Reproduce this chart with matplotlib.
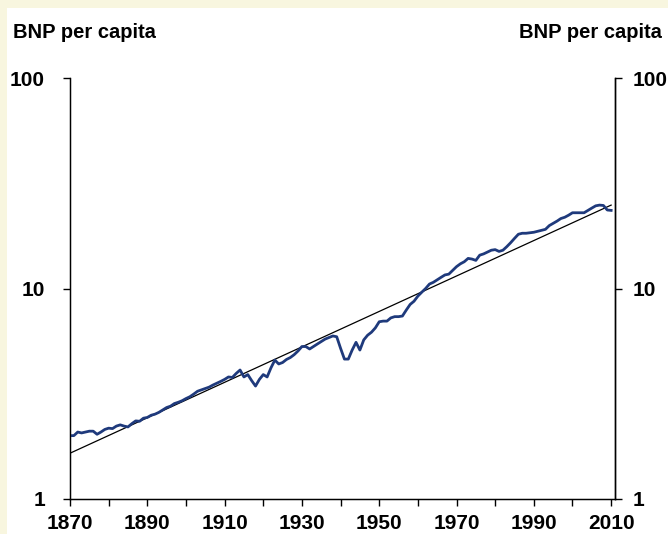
import matplotlib as mpl
import matplotlib.pyplot as plt
from matplotlib.patches import Rectangle

years = list(range(1870, 2011))
bnp = [
  2.00, 2.00, 2.08, 2.06, 2.08, 2.10, 2.10, 2.03, 2.08, 2.14,   # 1870-1879
  2.17, 2.16, 2.22, 2.25, 2.22, 2.20, 2.28, 2.35, 2.34, 2.42,   # 1880-1889
  2.44, 2.50, 2.53, 2.58, 2.65, 2.72, 2.76, 2.84, 2.88, 2.93,   # 1890-1899
  3.00, 3.06, 3.15, 3.25, 3.30, 3.35, 3.40, 3.48, 3.55, 3.62,   # 1900-1909
  3.70, 3.80, 3.78, 3.95, 4.10, 3.80, 3.90, 3.65, 3.44, 3.70,   # 1910-1919
  3.90, 3.80, 4.20, 4.57, 4.38, 4.45, 4.60, 4.70, 4.85, 5.05,   # 1920-1929
  5.30, 5.30, 5.16, 5.30, 5.45, 5.60, 5.75, 5.85, 5.95, 5.90,   # 1930-1939
  5.20, 4.62, 4.62, 5.10, 5.55, 5.10, 5.70, 6.00, 6.20, 6.50,   # 1940-1949
  6.95, 7.00, 7.00, 7.25, 7.35, 7.35, 7.40, 7.90, 8.40, 8.70,   # 1950-1959
  9.20, 9.60, 10.0, 10.5, 10.7, 11.0, 11.3, 11.6, 11.7, 12.2,   # 1960-1969
  12.7, 13.1, 13.4, 13.9, 13.8, 13.6, 14.4, 14.6, 14.9, 15.2,   # 1970-1979
  15.3, 15.0, 15.2, 15.8, 16.5, 17.3, 18.1, 18.3, 18.3, 18.4,   # 1980-1989
  18.5, 18.7, 18.9, 19.1, 19.9, 20.4, 20.9, 21.5, 21.8, 22.3,   # 1990-1999
  22.9, 22.9, 22.9, 22.9, 23.5, 24.1, 24.7, 24.9, 24.8, 23.6,   # 2000-2009
  23.5,                                                         # 2010
]
trend_years = [1870, 2010]
trend_values = [1.65, 24.9]

x_ticks = list(range(1870, 2011, 10))
x_labels = [str(y) if (y - 1870) % 20 == 0 else '' for y in x_ticks]
y_ticks = [1, 10, 100]
y_labels = ['1', '10', '100']

mpl.rcParams.update({
  'font.family': 'Liberation Sans',
  'font.weight': 'bold',
  'font.size': 14.5
})

fig = plt.figure(figsize=(6.68, 5.34), dpi=100, facecolor='#f8f6df')
fig.patches.append(Rectangle((7 / 668, 0), 1, 1 - 8 / 534, transform=fig.transFigure,
                             facecolor='white', edgecolor='none', zorder=-10))

ax = fig.add_axes([70 / 668, 1 - 499 / 534, 545 / 668, 421 / 534])
ax.set_facecolor('none')
ax.plot(trend_years, trend_values, color='black', lw=0.9, zorder=2)
ax.plot(years, bnp, color='#1f3a7c', lw=2.0, zorder=3)

ax.set_yscale('log')
ax.set_ylim(1, 100)
ax.set_xlim(1870, 2011)
ax.set_xticks(x_ticks)
ax.set_xticklabels(x_labels)
ax.set_yticks(y_ticks)
ax.set_yticklabels(y_labels)
ax.minorticks_off()
ax.tick_params(axis='x', direction='out', length=5, width=1, pad=6, labelsize=15)
ax.tick_params(axis='y', direction='out', length=5, width=1, pad=13, labelsize=15)
ax.spines['top'].set_visible(False)
for s in ['left', 'bottom', 'right']:
  ax.spines[s].set_linewidth(1)

ax2 = ax.twinx()
ax2.set_facecolor('none')
ax2.set_yscale('log')
ax2.set_ylim(1, 100)
ax2.set_yticks(y_ticks)
ax2.set_yticklabels(y_labels)
ax2.minorticks_off()
ax2.tick_params(axis='y', direction='out', length=5, width=1, pad=8, labelsize=15)
ax2.spines['top'].set_visible(False)
ax2.spines['right'].set_linewidth(1)

fig.text(13 / 668, 1 - 32 / 534, 'BNP per capita', ha='left', va='center')
fig.text(662 / 668, 1 - 32 / 534, 'BNP per capita', ha='right', va='center')

fig.savefig('out.png', dpi=100, facecolor=fig.get_facecolor())
